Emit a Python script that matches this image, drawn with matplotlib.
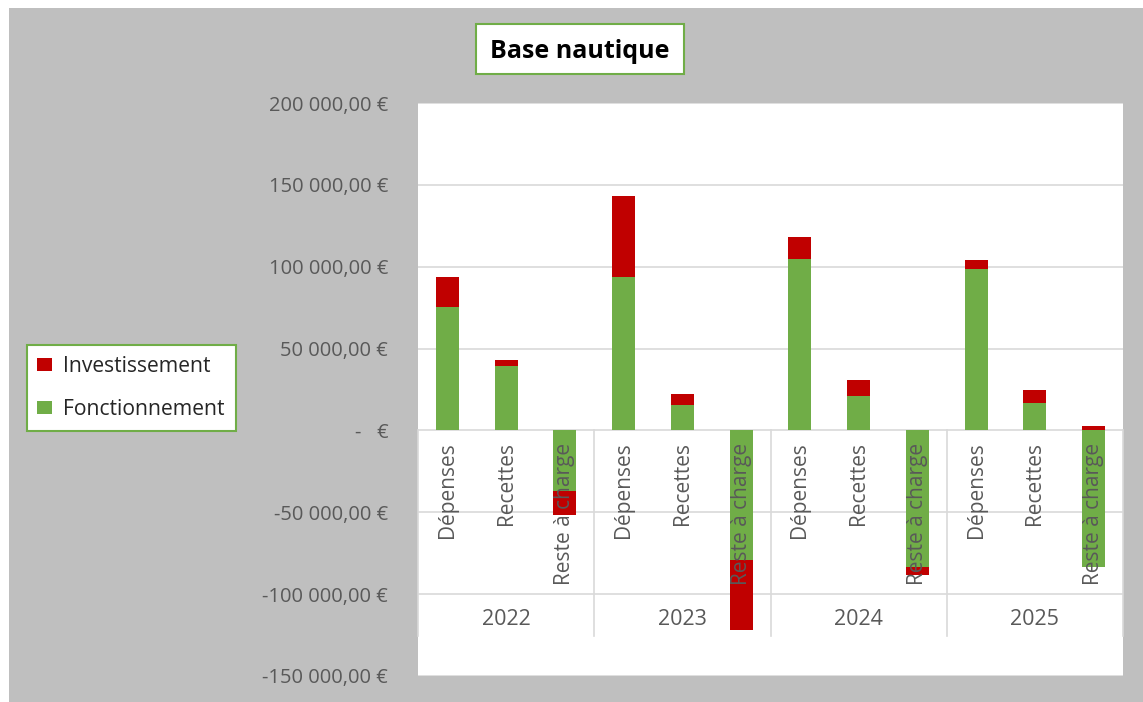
import matplotlib
matplotlib.use("Agg")
import matplotlib.pyplot as plt
import numpy as np
from matplotlib.patches import Rectangle
from matplotlib.lines import Line2D

# ---- data ----
years = ["2022", "2023", "2024", "2025"]
categories = ["Dépenses", "Recettes", "Reste à charge"]
fonctionnement = [75500, 39200, -37200, 93900, 15700, -79200,
                  104800, 20800, -83700, 98600, 17000, -83300]
investissement = [18400, 3700, -14500, 49500, 6400, -42700,
                  13600, 9800, -4700, 5400, 7500, 3000]
yticks = [200000, 150000, 100000, 50000, 0, -50000, -100000, -150000]

GREEN = "#70ad47"
RED = "#c00000"
GRAY_BG = "#bfbfbf"
TXT = "#595959"
GRID = "#d9d9d9"
FONT = "Open Sans"

W, H = 1143, 702
fig = plt.figure(figsize=(W / 100, H / 100), dpi=100)
fig.patch.set_facecolor("white")
bg = Rectangle((9 / W, 0), 1 - 9 / W, 1 - 8 / H, transform=fig.transFigure,
               facecolor=GRAY_BG, edgecolor="none", zorder=-10)
fig.add_artist(bg)

ax = fig.add_axes([418 / W, 1 - 676 / H, (1123 - 418) / W, (676 - 103) / H])
ax.set_zorder(1)
ax.set_facecolor("white")

n = len(years) * len(categories)
x = np.arange(n)
f = np.array(fonctionnement, dtype=float)
iv = np.array(investissement, dtype=float)
inv_bottom = np.where(np.sign(iv) == np.sign(f), f, 0.0)

bw = 0.39
b_f = ax.bar(x, f, width=bw, color=GREEN, edgecolor="none", zorder=2,
             label="Fonctionnement")
b_i = ax.bar(x, iv, bottom=inv_bottom, width=bw, color=RED, edgecolor="none",
             zorder=2, label="Investissement")

ax.set_xlim(-0.5, n - 0.5)
ax.set_ylim(-150000, 200000)
ax.set_yticks(yticks)


def fmt(v):
    if v == 0:
        return "-   €"
    s = f"{abs(v):,.2f}".replace(",", " ").replace(".", ",")
    return ("-" if v < 0 else "") + s + " €"


ax.set_yticklabels([fmt(v) for v in yticks], fontfamily=FONT, fontsize=14.5,
                   color=TXT)
ax.tick_params(axis="y", length=0, pad=21.5)
ax.set_xticks([])
for s in ax.spines.values():
    s.set_visible(False)
ax.yaxis.grid(True, color=GRID, linewidth=1.2, zorder=0)
ax.set_axisbelow(True)

# group separators of the multi-level category axis
sep_bottom = -125600
for g in range(len(years) + 1):
    xs = g * len(categories) - 0.5
    ax.add_line(Line2D([xs, xs], [0, sep_bottom], color=GRID, linewidth=1.2,
                       zorder=1, clip_on=False))

# category labels
for i in range(n):
    ax.annotate(categories[i % len(categories)], xy=(x[i], 0),
                xytext=(0, -12), textcoords="offset pixels",
                rotation=90, ha="center", va="top", fontfamily=FONT,
                fontsize=15, color=TXT, zorder=3)
# year labels
for g, yr in enumerate(years):
    xc = g * len(categories) + (len(categories) - 1) / 2
    ax.annotate(yr, xy=(xc, 0), xytext=(0, -189), textcoords="offset pixels",
                ha="center", va="center", fontfamily=FONT, fontsize=15.5,
                color=TXT, zorder=3)

# title
fig.add_artist(Rectangle((476 / W, 1 - 74 / H), 208 / W, 50 / H,
                         transform=fig.transFigure, facecolor="white",
                         edgecolor=GREEN, linewidth=1.5, zorder=2))
fig.text(580 / W, 1 - 49 / H, "Base nautique", ha="center", va="center_baseline",
         fontfamily=FONT, fontsize=18, fontweight="bold", color="black",
         zorder=3)

# legend
leg = fig.legend(handles=[b_i, b_f], labels=["Investissement", "Fonctionnement"],
                 loc="center", bbox_to_anchor=(131 / W, 1 - 388 / H),
                 frameon=True, fancybox=False, framealpha=1,
                 prop={"family": FONT, "size": 15.2},
                 handlelength=0.7, handleheight=0.6, labelspacing=1.05,
                 borderpad=0.5, handletextpad=0.55, borderaxespad=0)
leg.get_frame().set_edgecolor(GREEN)
leg.get_frame().set_linewidth(1.5)
for t in leg.get_texts():
    t.set_color("#262626")

fig.savefig("out.png", dpi=100, facecolor=fig.get_facecolor())
